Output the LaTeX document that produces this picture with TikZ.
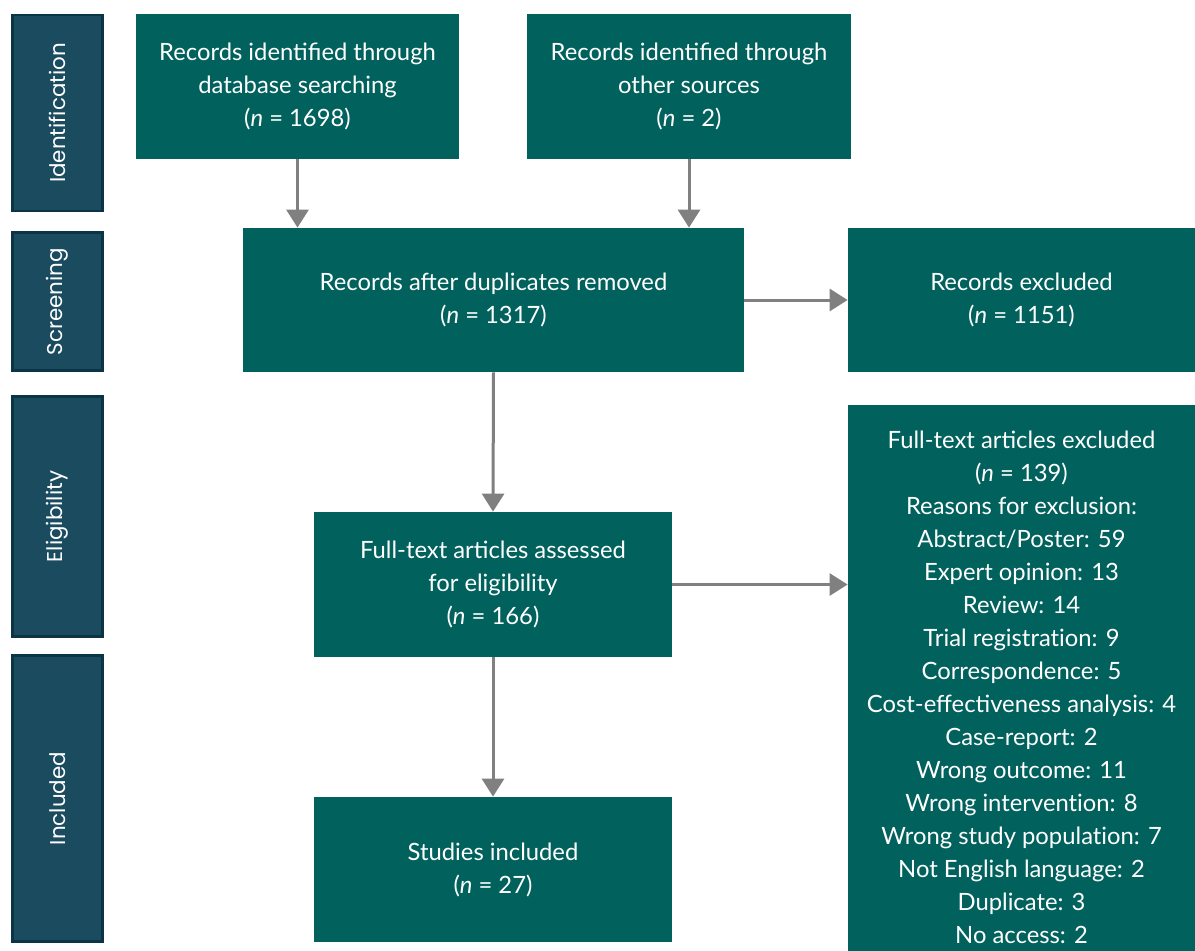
\documentclass[tikz,border=0pt]{standalone}
\usepackage{fontspec}
\setmainfont{Lato}
\newfontfamily\sidefont{Poppins}
\usetikzlibrary{arrows.meta}
\definecolor{boxteal}{HTML}{01615D}
\definecolor{barblue}{HTML}{1A4B5F}
\definecolor{bardark}{HTML}{0B3447}
\definecolor{arrgray}{HTML}{808080}
\tikzset{
	stagebox/.style={fill=boxteal, text=white, align=center, inner sep=0pt,
		font=\fontsize{11.9}{16.5}\selectfont},
	sidebar/.style={fill=barblue, draw=bardark, line width=1.2pt, text=white,
		minimum width=45pt, font=\sidefont\fontsize{10.7}{12}\selectfont},
	arr/.style={draw=arrgray, line width=1.5pt, -{Triangle[length=9pt,width=11pt]}}
}

\begin{document}
\begin{tikzpicture}[x=0.5pt, y=-0.5pt]
				\useasboundingbox (0,0) rectangle (1195,950);
				% side labels
				\node[sidebar, minimum height=98pt] (ident) at (57.5,113) {\rotatebox{90}{Identification}};
				\node[sidebar, minimum height=69pt] (screen) at (57.5,301.5) {\rotatebox{90}{Screening}};
				\node[sidebar, minimum height=120pt] (elig) at (57.5,516.5) {\rotatebox{90}{Eligibility}};
				\node[sidebar, minimum height=143pt] (inc) at (57.5,798.5) {\rotatebox{90}{Included}};
				% boxes
				\node[stagebox, minimum width=161.5pt, minimum height=72.5pt] (db) at (297.5,86.5)
					{Records identified through\\database searching\\(\textit{n} = 1698)};
				\node[stagebox, minimum width=162pt, minimum height=72.5pt] (other) at (689,86.5)
					{Records identified through\\other sources\\(\textit{n} = 2)};
				\node[stagebox, minimum width=250.5pt, minimum height=72pt] (dup) at (493.5,300)
					{Records after duplicates removed\\(\textit{n} = 1317)};
				\node[stagebox, minimum width=173.5pt, minimum height=72pt] (excl) at (1021.5,300)
					{Records excluded\\(\textit{n} = 1151)};
				\node[stagebox, minimum width=179pt, minimum height=72.5pt] (full) at (493,584.5)
					{Full-text articles assessed\\for eligibility\\(\textit{n} = 166)};
				\node[stagebox, minimum width=173.5pt, minimum height=282.5pt] (fullexcl) at (1021.5,687.5)
					{Full-text articles excluded\\(\textit{n} = 139)\\Reasons for exclusion:\\Abstract/Poster: 59\\
					Expert opinion: 13\\Review: 14\\Trial registrat\kern0pt ion: 9\\Correspondence: 5\\
					Cost-effectiveness analysis: 4\\Case-report: 2\\Wrong outcome: 11\\
					Wrong intervent\kern0pt ion: 8\\Wrong study populat\kern0pt ion: 7\\Not English language: 2\\
					Duplicate: 3\\No access: 2};
				\node[stagebox, minimum width=179pt, minimum height=72.5pt] (incl) at (493,869.5)
					{Studies included\\(\textit{n} = 27)};
				% connectors
				\draw[arr] (db.south) -- (db.south |- dup.north);
				\draw[arr] (other.south) -- (other.south |- dup.north);
				\draw[arr] (dup.east) -- (dup.east -| excl.west);
				\draw[arr] (dup.south) -- (full.north);
				\draw[arr] (full.east) -- (full.east -| fullexcl.west);
				\draw[arr] (full.south) -- (incl.north);
			\end{tikzpicture}
\end{document}
